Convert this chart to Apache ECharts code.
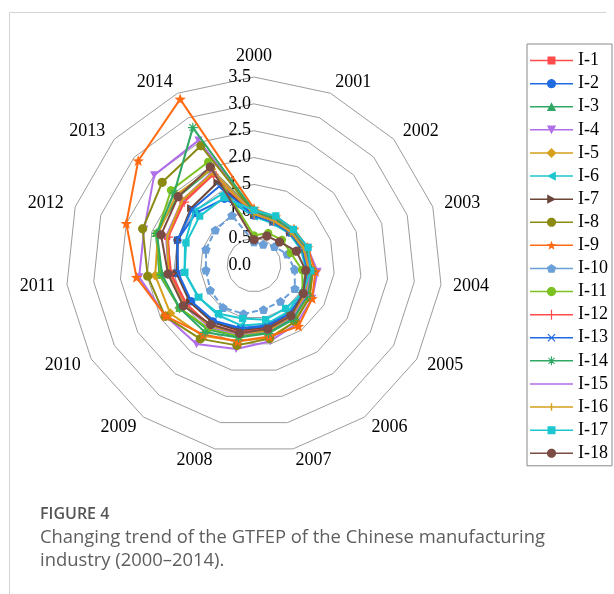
<!DOCTYPE html>
<html><head><meta charset="utf-8">
<script src="https://cdn.jsdelivr.net/npm/echarts@6/dist/echarts.min.js"></script>
<style>html,body{margin:0;padding:0;background:#fff}#c{width:614px;height:594px}</style>
</head><body><div id="c"></div>
<script>
// ---- data ----
const years = ['2000','2001','2002','2003','2004','2005','2006','2007','2008','2009','2010','2011','2012','2013','2014'];
const tickLabels = ['0.0','0.5','1.0','1.5','2.0','2.5','3.0','3.5'];
const seriesNames = ['I-1','I-2','I-3','I-4','I-5','I-6','I-7','I-8','I-9','I-10','I-11','I-12','I-13','I-14','I-15','I-16','I-17','I-18'];
const I1  = [0.95,0.90,0.92,0.98,1.05,1.12,1.18,1.22,1.30,1.40,1.45,1.55,1.70,1.78,1.85];
const I2  = [0.92,0.88,0.90,0.95,1.02,1.08,1.12,1.18,1.22,1.30,1.35,1.45,1.50,1.45,1.35];
const I3  = [1.00,0.93,0.95,1.00,1.08,1.15,1.22,1.28,1.36,1.48,1.60,1.77,1.92,1.90,1.95];
const I4  = [1.00,0.95,0.98,1.05,1.19,1.25,1.35,1.45,1.60,1.82,1.90,2.15,2.15,2.50,2.54];
const I5  = [0.97,0.92,0.95,1.02,1.10,1.18,1.30,1.38,1.45,1.63,1.80,1.85,1.88,1.95,1.95];
const I6  = [0.90,0.85,0.88,0.92,0.98,1.02,1.08,1.12,1.15,1.15,1.19,1.30,1.35,1.50,1.45];
const I7  = [0.93,0.88,0.90,0.95,1.02,1.10,1.15,1.20,1.25,1.32,1.38,1.45,1.49,1.58,1.68];
const I8  = [0.98,0.93,0.95,1.00,1.10,1.20,1.30,1.40,1.53,1.70,1.91,1.99,2.18,2.30,2.43];
const I9  = [1.05,0.98,1.00,1.05,1.15,1.25,1.41,1.36,1.45,1.60,1.90,2.20,2.50,2.90,3.38];
const I10 = [0.43,0.42,0.51,0.65,0.76,0.88,0.84,0.85,0.93,0.98,0.94,0.90,0.94,0.97,1.01];
const I11 = [0.55,0.65,0.70,0.72,0.90,1.05,1.15,1.25,1.35,1.45,1.60,1.75,1.90,2.08,2.10];
const I12 = [0.94,0.90,0.92,0.97,1.04,1.10,1.16,1.22,1.28,1.38,1.48,1.58,1.68,1.75,1.85];
const I13 = [0.92,0.88,0.90,0.95,1.00,1.06,1.12,1.15,1.20,1.28,1.35,1.42,1.50,1.55,1.60];
const I14 = [1.00,0.95,0.95,1.00,1.08,1.15,1.25,1.30,1.38,1.55,1.60,1.72,1.90,2.00,2.80];
const I15 = [0.96,0.90,0.93,0.98,1.05,1.12,1.20,1.25,1.32,1.42,1.50,1.60,1.72,1.80,1.90];
const I16 = [0.95,0.90,0.92,0.97,1.03,1.10,1.18,1.25,1.30,1.40,1.50,1.60,1.70,1.80,1.88];
const I17 = [1.02,1.00,0.99,1.06,1.06,1.05,1.00,1.04,1.02,1.12,1.20,1.30,1.33,1.36,1.37];
const I18 = [0.47,0.59,0.64,0.83,0.97,1.06,1.17,1.22,1.30,1.37,1.52,1.61,1.82,1.90,2.00];
const seriesValues = [I1,I2,I3,I4,I5,I6,I7,I8,I9,I10,I11,I12,I13,I14,I15,I16,I17,I18];

// ECharts lays radar axes out counter-clockwise; the reference runs clockwise,
// so axes are listed as 2000, 2014, 2013, ... 2001 and values reordered to match.
const axisOrder = years.map((_, k) => (k === 0 ? 0 : years.length - k));

// ---- styles ----
const colors = ['#FF4B4B','#1F6AE0','#2EA864','#B06FE8','#D6A01C','#1CC6CF','#6A4638','#8B8A12','#FF6A13',
                '#6A9FD8','#7BC11F','#FF4B4B','#1F6AE0','#2EA864','#B06FE8','#D6A01C','#1CC6CF','#7A4C44'];
const markerKinds = ['square','circle','triUp','triDown','diamond','triLeft','triRight','circle','star',
                     'pentagon','circle','plus','cross','asterisk','dash','bar','square','circle'];
const markerSizes = [8,9,9,9,10,9,9,10,12,10,9,10,9,11,9,9,9,10];

function ring(n, r, cx, cy, a0){ const p=[]; for(let i=0;i<n;i++){const a=a0+i*2*Math.PI/n; p.push([cx+r*Math.cos(a), cy+r*Math.sin(a)]);} return p; }
function starPts(){ const p=[]; for(let i=0;i<10;i++){const a=-Math.PI/2+i*Math.PI/5; const r=i%2?2.1:5; p.push([5+r*Math.cos(a),5.4+r*Math.sin(a)]);} return p; }
const shapes = {
  square:[[[1,1],[9,1],[9,9],[1,9]]],
  circle:[ring(24,4.6,5,5,0)],
  triUp:[[[5,0.5],[9.6,9.3],[0.4,9.3]]],
  triDown:[[[0.4,0.7],[9.6,0.7],[5,9.5]]],
  diamond:[[[5,0],[10,5],[5,10],[0,5]]],
  triLeft:[[[0.5,5],[9.3,0.4],[9.3,9.6]]],
  triRight:[[[0.7,0.4],[9.5,5],[0.7,9.6]]],
  star:[starPts()],
  pentagon:[ring(5,4.9,5,5.4,-Math.PI/2)],
  plus:[[[4.4,0],[5.6,0],[5.6,4.4],[10,4.4],[10,5.6],[5.6,5.6],[5.6,10],[4.4,10],[4.4,5.6],[0,5.6],[0,4.4],[4.4,4.4]]],
  cross:[[[1,1.8],[1.8,1],[9,8.2],[8.2,9]],[[9,1.8],[1.8,9],[1,8.2],[8.2,1]]],
  asterisk:[[[4.45,0.5],[5.55,0.5],[5.55,4.45],[9.5,4.45],[9.5,5.55],[5.55,5.55],[5.55,9.5],[4.45,9.5],[4.45,5.55],[0.5,5.55],[0.5,4.45],[4.45,4.45]],
            [[1.6,2.3],[2.3,1.6],[8.4,7.7],[7.7,8.4]],[[8.4,2.3],[2.3,8.4],[1.6,7.7],[7.7,1.6]]],
  dash:[[[1.5,4.3],[8.5,4.3],[8.5,5.7],[1.5,5.7]]],
  bar:[[[4.3,1.2],[5.7,1.2],[5.7,8.8],[4.3,8.8]]]
};
function polys(list, ox){ return list.map(pts=>pts.map((p,i)=>(i?'L':'M')+(p[0]+ox).toFixed(2)+','+p[1].toFixed(2)).join('')+'Z').join(' '); }
function specks(w,h){ return ` M0,0L0.01,0L0,0.01Z M${w},${h}L${w-0.01},${h}L${w},${h-0.01}Z`; }
const LW = 43;
function symbolPath(kind){ return 'path://' + polys(shapes[kind],0) + specks(10,10); }
function legendIcon(kind){ return 'path://M0,4.25H'+LW+'V5.75H0Z ' + polys(shapes[kind], LW/2-5) + specks(LW,10); }

const serif = 'Liberation Serif';
const series = seriesNames.map((nm,i)=>({
  type:'radar', name:nm, z:2+i,
  symbol: symbolPath(markerKinds[i]), symbolSize: markerSizes[i], symbolKeepAspect:true,
  lineStyle:{color:colors[i], width:2, type: nm==='I-10' ? [6,3] : 'solid'},
  itemStyle:{color:colors[i]},
  data:[{name:nm, value: axisOrder.map(k => seriesValues[i][k])}]
}));

const chart = echarts.init(document.getElementById('c'), null, {renderer:'canvas'});
chart.setOption({
  animation:false,
  backgroundColor:'#fff',
  radar:{
    center:[254,265], radius:188, startAngle:90, shape:'polygon', splitNumber:7,
    nameGap:12,
    axisName:{color:'#000', fontSize:18, fontFamily:serif},
    indicator: axisOrder.map((k,i)=> i===0
      ? {name:years[k], min:0, max:3.5, axisLabel:{show:true, margin:3, color:'#000', fontSize:18, fontFamily:serif,
          formatter:(v)=>{ const t=Math.round(v/0.5); return tickLabels[t]!==undefined?tickLabels[t]:''; }}}
      : {name:years[k], min:0, max:3.5}),
    axisLine:{show:false}, axisTick:{show:false}, axisLabel:{show:false},
    splitLine:{lineStyle:{color:'#9c9c9c', width:1}},
    splitArea:{show:false}
  },
  legend:{
    orient:'vertical', left:527, top:44, align:'left',
    itemWidth:LW, itemHeight:10, itemGap:0,
    padding:[5,4,1,3],
    borderColor:'#8a8a8a', borderWidth:1,
    textStyle:{color:'#000', fontSize:18, fontFamily:serif, lineHeight:23.1},
    data: seriesNames.map((nm,i)=>({name:nm, icon:legendIcon(markerKinds[i])})),
    selectedMode:false
  },
  graphic:[
    {type:'line', shape:{x1:9.5,y1:12.5,x2:606,y2:12.5}, style:{stroke:'#d4d4d4', lineWidth:1}, silent:true},
    {type:'line', shape:{x1:9.5,y1:12.5,x2:9.5,y2:594}, style:{stroke:'#d4d4d4', lineWidth:1}, silent:true},
    {type:'text', left:40, top:506, style:{text:'FIGURE 4', fill:'#555555', font:'600 16px "Open Sans"'}},
    {type:'text', left:40, top:529, style:{text:'Changing trend of the GTFEP of the Chinese manufacturing', fill:'#5e5e5e', font:'18.4px "Open Sans"'}},
    {type:'text', left:40, top:552, style:{text:'industry (2000\u20132014).', fill:'#5e5e5e', font:'18.4px "Open Sans"'}}
  ],
  series: series
});
</script>
</body></html>
